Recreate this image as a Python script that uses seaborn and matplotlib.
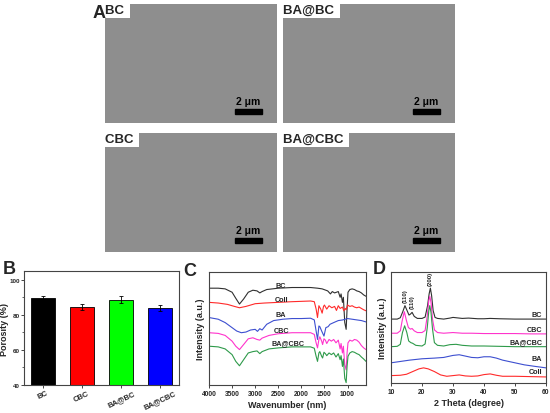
import numpy as np
import seaborn as sns
import matplotlib.pyplot as plt
from matplotlib.patches import Rectangle

# panel B: porosity
samples = ["BC", "CBC", "BA@BC", "BA@CBC"]
porosity = [89.5, 84.5, 88.6, 83.8]
porosity_err = [1.0, 1.5, 2.0, 1.8]
bar_colors = ["#000000", "#ff0000", "#00ff00", "#0000ff"]

# panel C: FTIR (wavenumber, intensity a.u.)
ftir_bc_x = [4000, 3800, 3650, 3500, 3420, 3340, 3250, 3150, 3050, 2960, 2900, 2850, 2750, 2500, 2200, 2000,
             1800, 1650, 1550, 1430, 1370, 1330, 1280, 1200, 1160, 1140, 1110, 1090, 1060, 1030, 1010, 990,
             950, 900, 850, 800, 750, 700, 650, 600]
ftir_bc_y = [292, 292, 290, 280, 262, 245, 260, 280, 286, 284, 278, 282, 288, 292, 294, 294,
             294, 292, 290, 284, 275, 282, 278, 282, 265, 275, 250, 265, 190, 170, 230, 280,
             288, 290, 288, 284, 282, 278, 272, 268]
ftir_coll_x = [4000, 3800, 3600, 3450, 3340, 3200, 3000, 2800, 2500, 2200, 2000, 1800, 1720, 1680, 1650, 1620,
               1580, 1550, 1520, 1500, 1450, 1400, 1340, 1280, 1240, 1200, 1160, 1110, 1080, 1050, 1030, 1000,
               950, 900, 850, 800, 750, 700, 650, 600]
ftir_coll_y = [250, 248, 244, 238, 234, 238, 246, 248, 250, 252, 253, 254, 252, 230, 205, 240,
               230, 218, 238, 242, 230, 240, 234, 238, 226, 240, 232, 236, 225, 232, 228, 242,
               238, 240, 236, 234, 236, 232, 228, 225]
ftir_ba_x = [4000, 3800, 3650, 3500, 3400, 3300, 3200, 3100, 3000, 2950, 2900, 2850, 2750, 2600, 2400, 2200,
             2000, 1800, 1720, 1680, 1650, 1620, 1600, 1560, 1510, 1470, 1420, 1380, 1300, 1200, 1100, 1000,
             900, 800, 700, 600]
ftir_ba_y = [205, 200, 190, 175, 165, 160, 162, 168, 170, 164, 172, 168, 185, 196, 200, 202,
             202, 203, 198, 165, 140, 180, 178, 165, 150, 175, 178, 185, 190, 196, 198, 202,
             200, 198, 196, 192]
ftir_cbc_x = [4000, 3800, 3650, 3500, 3420, 3340, 3250, 3150, 3050, 2960, 2900, 2850, 2700, 2500, 2200, 2000,
              1800, 1720, 1680, 1650, 1620, 1600, 1560, 1540, 1510, 1480, 1450, 1400, 1350, 1300, 1250, 1200,
              1160, 1140, 1110, 1090, 1060, 1030, 1010, 990, 950, 900, 850, 800, 750, 700, 650, 600]
ftir_cbc_y = [160, 158, 152, 135, 120, 110, 125, 142, 145, 140, 138, 144, 152, 157, 160, 160,
              160, 155, 130, 115, 140, 148, 135, 125, 142, 138, 128, 140, 135, 140, 130, 138,
              112, 128, 100, 120, 65, 50, 100, 130, 138, 135, 140, 138, 132, 122, 115, 110]
ftir_bacbc_x = ftir_cbc_x
ftir_bacbc_y = [120, 118, 112, 95, 75, 62, 80, 100, 104, 106, 98, 104, 112, 115, 118, 118,
                118, 114, 90, 75, 100, 104, 90, 85, 102, 98, 92, 100, 95, 100, 88, 98,
                80, 92, 60, 82, 25, 12, 60, 90, 100, 104, 102, 98, 95, 88, 82, 75]

# panel D: XRD (2 theta, intensity a.u.)
xrd_bc_x = [10, 12, 13, 13.8, 14.5, 15.2, 15.8, 16.3, 16.8, 17.5, 18.5, 20, 21, 21.8, 22.3, 22.7, 23.1, 23.6,
            24.2, 25, 27, 29, 30, 31, 33, 35, 38, 40, 42, 45, 50, 55, 60]
xrd_bc_y = [200, 200, 204, 222, 240, 225, 212, 215, 220, 208, 202, 202, 206, 240, 275, 292, 270, 225,
            205, 202, 200, 203, 205, 204, 202, 203, 201, 201, 202, 201, 200, 200, 200]
xrd_cbc_x = [10, 12, 13, 13.6, 14.3, 15, 15.6, 16.3, 16.8, 17.5, 18.5, 20, 21, 21.7, 22.2, 22.5, 22.9, 23.4,
             24, 25, 27, 30, 33, 36, 40, 45, 50, 55, 60]
xrd_cbc_y = [158, 158, 165, 195, 222, 195, 175, 170, 172, 165, 160, 160, 166, 210, 255, 268, 250, 200,
             168, 160, 158, 160, 158, 158, 157, 157, 157, 156, 156]
xrd_bacbc_x = [10, 12, 13, 13.7, 14.4, 15.1, 15.7, 16.4, 17, 18, 20, 21, 21.7, 22.2, 22.5, 22.9, 23.4, 24,
               25, 27, 29, 31, 33, 36, 40, 45, 50, 55, 60]
xrd_bacbc_y = [118, 119, 125, 160, 180, 160, 135, 130, 128, 122, 120, 126, 175, 225, 240, 220, 170, 130,
               122, 120, 124, 125, 122, 120, 120, 119, 118, 118, 118]
xrd_ba_x = [10, 13, 16, 20, 24, 27, 30, 32, 34, 36, 38, 40, 42, 44, 46, 48, 50, 53, 56, 60]
xrd_ba_y = [70, 74, 78, 82, 84, 86, 92, 94, 90, 86, 85, 88, 88, 84, 78, 74, 70, 64, 60, 55]
xrd_coll_x = [10, 13, 15, 17, 19, 20.5, 22, 24, 26, 28, 30, 32, 34, 36, 38, 40, 42, 44, 46, 50, 55, 60]
xrd_coll_y = [32, 33, 36, 44, 52, 55, 52, 44, 34, 30, 32, 34, 31, 30, 31, 35, 37, 33, 30, 30, 29, 28]

sem_labels = ["BC", "BA@BC", "CBC", "BA@CBC"]

sns.set_style("ticks")
plt.rcParams["font.family"] = ["Liberation Sans", "DejaVu Sans"]
plt.rcParams["font.weight"] = "bold"
plt.rcParams["axes.labelweight"] = "bold"
plt.rcParams["axes.edgecolor"] = "#444444"
plt.rcParams["axes.linewidth"] = 0.8

fig = plt.figure(figsize=(5.5, 4.14), dpi=100)
W, H = 550, 414


def px_axes(x0, y0, x1, y1):
    return fig.add_axes([x0 / W, 1 - y1 / H, (x1 - x0) / W, (y1 - y0) / H])


# ---- A: SEM panels (placeholders) ----
sem_boxes = [(105, 5, 277, 124), (283, 5, 455, 124), (105, 134, 277, 253), (283, 134, 455, 253)]
for (x0, y0, x1, y1), lab in zip(sem_boxes, sem_labels):
    ax = px_axes(x0, y0, x1, y1)
    ax.set_facecolor("#8e8e8e")
    ax.set_xticks([])
    ax.set_yticks([])
    for s in ax.spines.values():
        s.set_visible(False)
    ax.text(0.0, 1.0, lab + " ", transform=ax.transAxes, ha="left", va="top", fontsize=9.5,
            fontweight="bold", bbox=dict(facecolor="white", edgecolor="none", pad=1.5))
    ax.add_patch(Rectangle((0.756, 0.076), 0.157, 0.045, transform=ax.transAxes, color="black"))
    ax.text(0.835, 0.14, "2 μm", transform=ax.transAxes, ha="center", va="bottom", fontsize=7.5,
            fontweight="bold", color="black")

fig.text(93 / W, 1 - 14 / H, "A", fontsize=13, fontweight="bold", va="center")

# ---- B: porosity ----
axB = px_axes(24, 272, 179, 386)
sns.barplot(x=samples, y=porosity, palette=bar_colors, hue=samples, legend=False, ax=axB,
            width=0.6, edgecolor="black", linewidth=0.6, saturation=1)
axB.errorbar(range(len(samples)), porosity, yerr=porosity_err, fmt="none", ecolor="black",
             elinewidth=0.6, capsize=1.5, capthick=0.6)
axB.set_ylim(40, 105)
axB.set_yticks([40, 60, 80, 100])
axB.set_yticks([50, 70, 90], minor=True)
axB.set_ylabel("Porosity (%)", fontsize=6.5)
axB.yaxis.set_label_coords(-0.1, 0.5)
axB.tick_params(axis="both", labelsize=4.5, length=2, width=0.6, pad=1)
axB.tick_params(axis="y", which="minor", length=1.2, width=0.5)
for lbl in axB.get_xticklabels():
    lbl.set_rotation(25)
    lbl.set_fontweight("bold")
    lbl.set_fontsize(5.5)
fig.text(3 / W, 1 - 270 / H, "B", fontsize=13, fontweight="bold", va="center")

# ---- C: FTIR ----
axC = px_axes(209, 273, 366, 386)
ftir = [(ftir_bc_x, ftir_bc_y, "#303030", "BC", 2450, 300),
        (ftir_coll_x, ftir_coll_y, "#ff2a2a", "Coll", 2420, 258),
        (ftir_ba_x, ftir_ba_y, "#3d4fd0", "BA", 2450, 214),
        (ftir_cbc_x, ftir_cbc_y, "#ff33cc", "CBC", 2420, 167),
        (ftir_bacbc_x, ftir_bacbc_y, "#2e9a4a", "BA@CBC", 2280, 132)]
for xs, ys, c, lab, tx, ty in ftir:
    sns.lineplot(x=xs, y=ys, color=c, linewidth=0.8, ax=axC)
    axC.text(tx, ty, lab, ha="center", va="center", fontsize=5.2, fontweight="bold")
axC.set_xlim(4000, 600)
axC.set_ylim(5, 340)
axC.set_xticks([4000, 3500, 3000, 2500, 2000, 1500, 1000])
axC.set_yticks([])
axC.set_xlabel("Wavenumber (nm)", fontsize=6.5, labelpad=2)
axC.set_ylabel("Intensity (a.u.)", fontsize=6.5, labelpad=3)
axC.tick_params(axis="x", labelsize=4.8, length=2, width=0.6, pad=1.5)
fig.text(183 / W, 1 - 271 / H, "C", fontsize=13, fontweight="bold", va="center")

# ---- D: XRD ----
axD = px_axes(391, 273, 546, 384)
xrd = [(xrd_bc_x, xrd_bc_y, "#303030", "BC", 215),
       (xrd_cbc_x, xrd_cbc_y, "#ff33cc", "CBC", 170),
       (xrd_bacbc_x, xrd_bacbc_y, "#2e9a4a", "BA@CBC", 132),
       (xrd_ba_x, xrd_ba_y, "#3d4fd0", "BA", 82),
       (xrd_coll_x, xrd_coll_y, "#ff2a2a", "Coll", 45)]
for xs, ys, c, lab, ty in xrd:
    sns.lineplot(x=xs, y=ys, color=c, linewidth=0.8, ax=axD)
    axD.text(58.8, ty, lab, ha="right", va="center", fontsize=5.2, fontweight="bold")
axD.text(14.6, 250, "(110)", rotation=90, ha="center", va="bottom", fontsize=4.3, fontweight="bold")
axD.text(16.9, 232, "(110)", rotation=90, ha="center", va="bottom", fontsize=4.3, fontweight="bold")
axD.text(22.8, 300, "(200)", rotation=90, ha="center", va="bottom", fontsize=4.3, fontweight="bold")
axD.set_xlim(10, 60)
axD.set_ylim(10, 340)
axD.set_xticks([10, 20, 30, 40, 50, 60])
axD.set_yticks([])
axD.set_xlabel("2 Theta (degree)", fontsize=6.5, labelpad=2)
axD.set_ylabel("Intensity (a.u.)", fontsize=6.5, labelpad=3)
axD.tick_params(axis="x", labelsize=4.8, length=2, width=0.6, pad=1.5)
fig.text(373 / W, 1 - 269 / H, "D", fontsize=13, fontweight="bold", va="center")

fig.savefig("out.png", dpi=100)
